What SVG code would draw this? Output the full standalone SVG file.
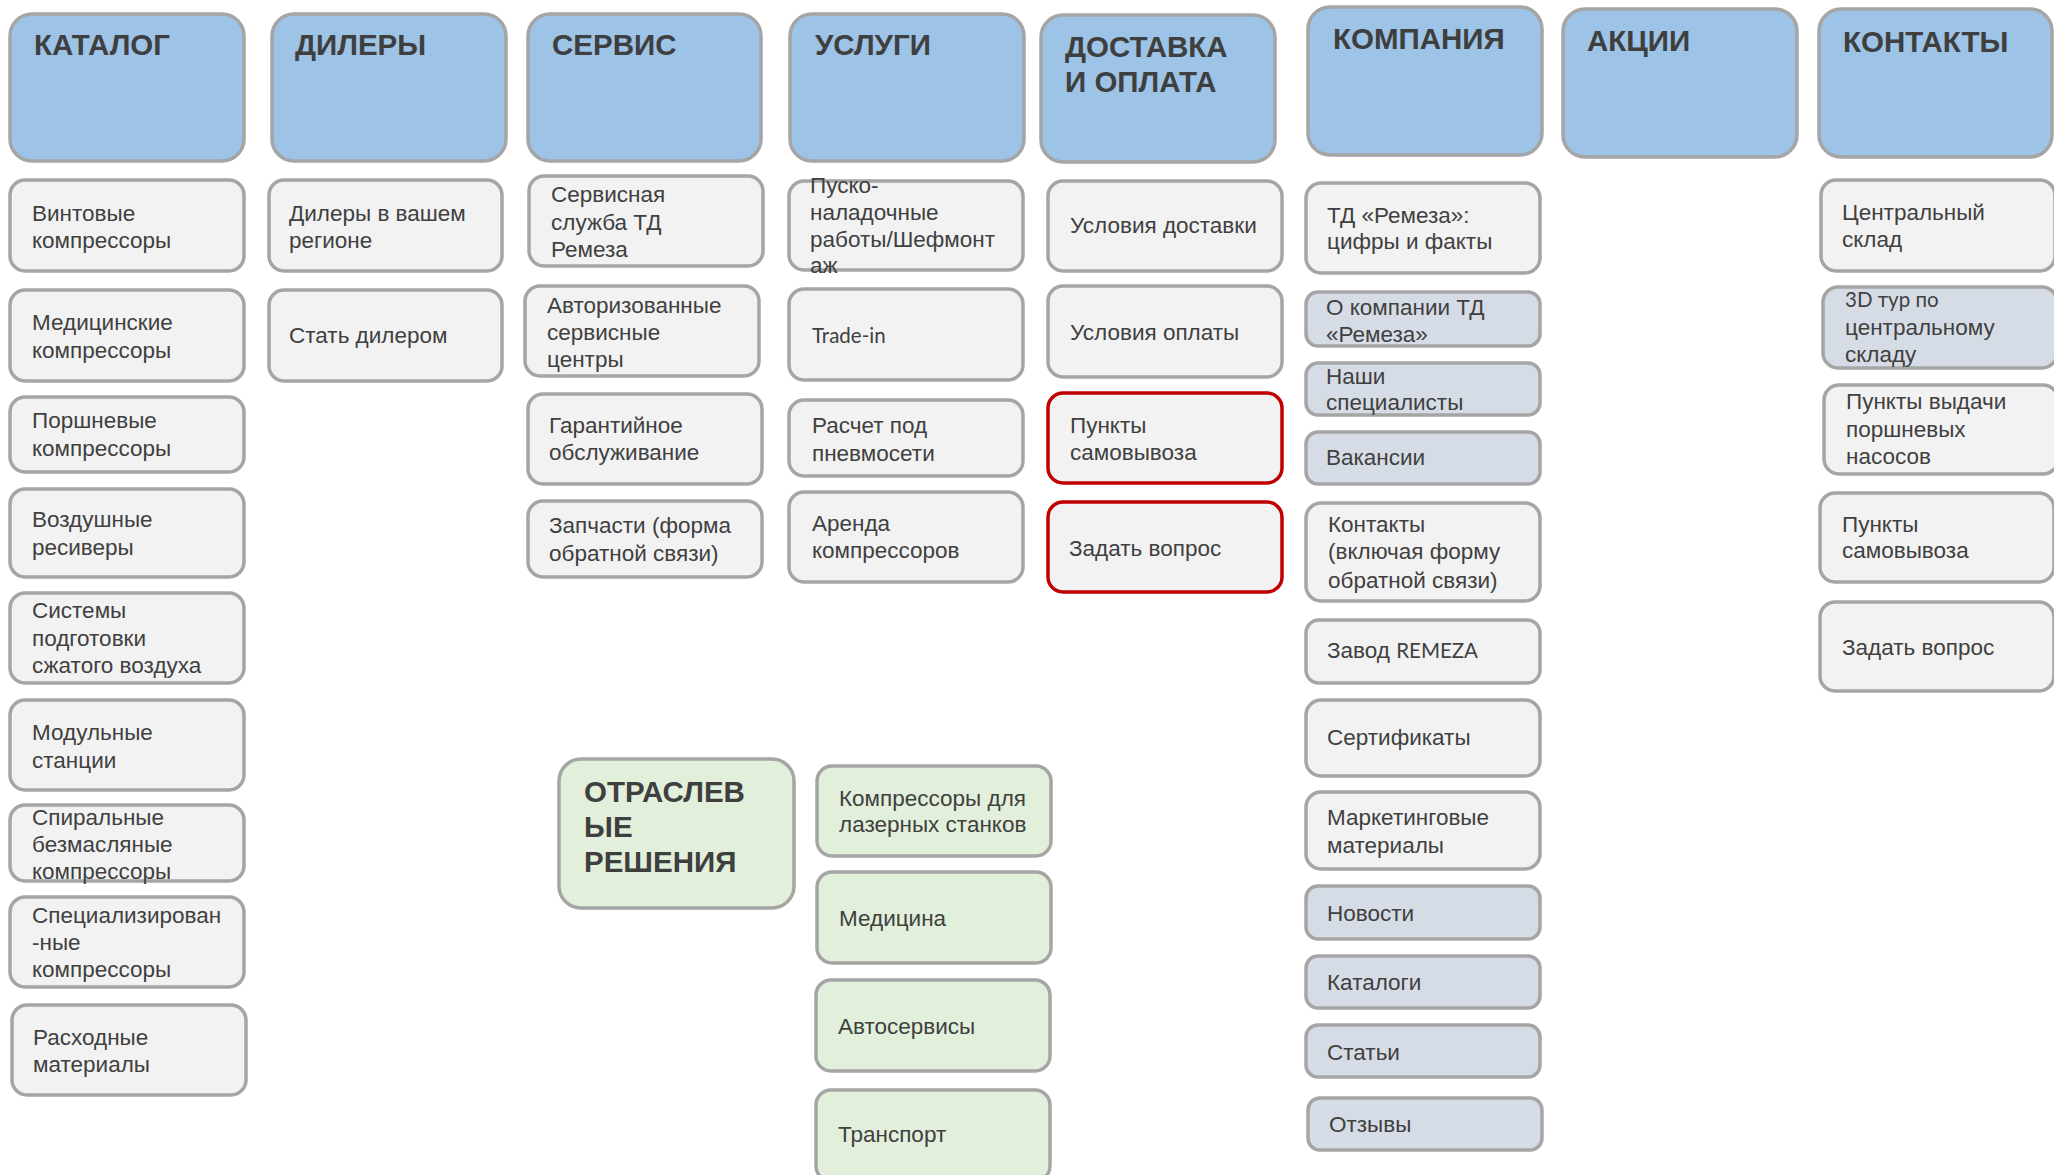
<svg xmlns="http://www.w3.org/2000/svg" width="2054" height="1175" viewBox="0 0 2054 1175">
<style>
rect{stroke:#A5A5A5;stroke-width:3.5}
.hdr{fill:#9DC3E6}
.itm{fill:#F2F2F2}
.blu{fill:#D6DCE5}
.grn{fill:#E2EFDA}
.red{fill:#F2F2F2;stroke:#C00000}
text{font-family:"Liberation Sans",Arial,sans-serif;font-size:22.5px;fill:#404040}
.h{font-weight:bold;font-size:29.5px;fill:#3F3F3F}
.c{font-family:Lato,"Liberation Sans",sans-serif;font-size:20.5px}
</style>
<rect x="0" y="0" width="2054" height="1175" fill="#FFFFFF" style="stroke:none"/>
<g id="connectors"></g>

<!-- Headers -->
<g id="h-katalog"><rect class="hdr" x="10" y="14" width="234" height="147" rx="22"/><text class="h" x="34" y="55">КАТАЛОГ</text></g>
<g id="h-dilery"><rect class="hdr" x="272" y="14" width="234" height="147" rx="22"/><text class="h" x="295" y="55">ДИЛЕРЫ</text></g>
<g id="h-servis"><rect class="hdr" x="528" y="14" width="233" height="147" rx="22"/><text class="h" x="552" y="55">СЕРВИС</text></g>
<g id="h-uslugi"><rect class="hdr" x="790" y="14" width="234" height="147" rx="22"/><text class="h" x="815" y="55">УСЛУГИ</text></g>
<g id="h-dostavka"><rect class="hdr" x="1041" y="15" width="234" height="147" rx="22"/><text class="h" x="1065" y="57">ДОСТАВКА</text><text class="h" x="1065" y="92">И ОПЛАТА</text></g>
<g id="h-kompania"><rect class="hdr" x="1308" y="7" width="234" height="148" rx="22"/><text class="h" x="1333" y="49">КОМПАНИЯ</text></g>
<g id="h-akcii"><rect class="hdr" x="1563" y="9" width="234" height="148" rx="22"/><text class="h" x="1587" y="51">АКЦИИ</text></g>
<g id="h-kontakty"><rect class="hdr" x="1819" y="9" width="233" height="148" rx="22"/><text class="h" x="1843" y="52">КОНТАКТЫ</text></g>

<!-- КАТАЛОГ -->
<g id="k1"><rect class="itm" x="10" y="180" width="234" height="91" rx="15"/><text x="32" y="221">Винтовые</text><text x="32" y="248">компрессоры</text></g>
<g id="k2"><rect class="itm" x="10" y="290" width="234" height="91" rx="15"/><text x="32" y="330">Медицинские</text><text x="32" y="358">компрессоры</text></g>
<g id="k3"><rect class="itm" x="10" y="397" width="234" height="75" rx="15"/><text x="32" y="428">Поршневые</text><text x="32" y="456">компрессоры</text></g>
<g id="k4"><rect class="itm" x="10" y="489" width="234" height="88" rx="15"/><text x="32" y="527">Воздушные</text><text x="32" y="555">ресиверы</text></g>
<g id="k5"><rect class="itm" x="10" y="593" width="234" height="90" rx="15"/><text x="32" y="618">Системы</text><text x="32" y="646">подготовки</text><text x="32" y="673">сжатого воздуха</text></g>
<g id="k6"><rect class="itm" x="10" y="700" width="234" height="90" rx="15"/><text x="32" y="740">Модульные</text><text x="32" y="768">станции</text></g>
<g id="k7"><rect class="itm" x="10" y="805" width="234" height="76" rx="15"/><text x="32" y="825">Спиральные</text><text x="32" y="852">безмасляные</text><text x="32" y="879">компрессоры</text></g>
<g id="k8"><rect class="itm" x="10" y="897" width="234" height="90" rx="15"/><text x="32" y="923">Специализирован</text><text x="32" y="950">-ные</text><text x="32" y="977">компрессоры</text></g>
<g id="k9"><rect class="itm" x="12" y="1005" width="234" height="90" rx="15"/><text x="33" y="1045">Расходные</text><text x="33" y="1072">материалы</text></g>

<!-- ДИЛЕРЫ -->
<g id="d1"><rect class="itm" x="269" y="180" width="233" height="91" rx="15"/><text x="289" y="221">Дилеры в вашем</text><text x="289" y="248">регионе</text></g>
<g id="d2"><rect class="itm" x="269" y="290" width="233" height="91" rx="15"/><text x="289" y="343">Стать дилером</text></g>

<!-- СЕРВИС -->
<g id="s1"><rect class="itm" x="529" y="176" width="234" height="90" rx="15"/><text x="551" y="202">Сервисная</text><text x="551" y="230">служба ТД</text><text x="551" y="257">Ремеза</text></g>
<g id="s2"><rect class="itm" x="525" y="286" width="234" height="90" rx="15"/><text x="547" y="313">Авторизованные</text><text x="547" y="340">сервисные</text><text x="547" y="367">центры</text></g>
<g id="s3"><rect class="itm" x="528" y="394" width="234" height="90" rx="15"/><text x="549" y="433">Гарантийное</text><text x="549" y="460">обслуживание</text></g>
<g id="s4"><rect class="itm" x="528" y="501" width="234" height="76" rx="15"/><text x="549" y="533">Запчасти (форма</text><text x="549" y="561">обратной связи)</text></g>

<!-- УСЛУГИ -->
<g id="u1"><rect class="itm" x="789" y="181" width="234" height="89" rx="15"/><text x="810" y="193">Пуско-</text><text x="810" y="220">наладочные</text><text x="810" y="247">работы/Шефмонт</text><text x="810" y="273">аж</text></g>
<g id="u2"><rect class="itm" x="789" y="289" width="234" height="91" rx="15"/><text class="c" x="812" y="343">Trade-in</text></g>
<g id="u3"><rect class="itm" x="789" y="400" width="234" height="76" rx="15"/><text x="812" y="433">Расчет под</text><text x="812" y="461">пневмосети</text></g>
<g id="u4"><rect class="itm" x="789" y="492" width="234" height="90" rx="15"/><text x="812" y="531">Аренда</text><text x="812" y="558">компрессоров</text></g>

<!-- ДОСТАВКА -->
<g id="p1"><rect class="itm" x="1048" y="181" width="234" height="90" rx="15"/><text x="1070" y="233">Условия доставки</text></g>
<g id="p2"><rect class="itm" x="1048" y="286" width="234" height="91" rx="15"/><text x="1070" y="340">Условия оплаты</text></g>
<g id="p3"><rect class="red" x="1048" y="393" width="234" height="90" rx="15"/><text x="1070" y="433">Пункты</text><text x="1070" y="460">самовывоза</text></g>
<g id="p4"><rect class="red" x="1048" y="502" width="234" height="90" rx="15"/><text x="1069" y="556">Задать вопрос</text></g>

<!-- КОМПАНИЯ -->
<g id="c1"><rect class="itm" x="1306" y="183" width="234" height="90" rx="15"/><text x="1327" y="223">ТД «Ремеза»:</text><text x="1327" y="249">цифры и факты</text></g>
<g id="c2"><rect class="blu" x="1306" y="292" width="234" height="54" rx="12"/><text x="1326" y="315">О компании ТД</text><text x="1326" y="342">«Ремеза»</text></g>
<g id="c3"><rect class="blu" x="1306" y="363" width="234" height="52" rx="12"/><text x="1326" y="384">Наши</text><text x="1326" y="410">специалисты</text></g>
<g id="c4"><rect class="blu" x="1306" y="432" width="234" height="52" rx="12"/><text x="1326" y="465">Вакансии</text></g>
<g id="c5"><rect class="itm" x="1306" y="503" width="234" height="98" rx="15"/><text x="1328" y="532">Контакты</text><text x="1328" y="559">(включая форму</text><text x="1328" y="588">обратной связи)</text></g>
<g id="c6"><rect class="itm" x="1306" y="620" width="234" height="63" rx="13"/><text x="1327" y="658">Завод <tspan class="c">REMEZA</tspan></text></g>
<g id="c7"><rect class="itm" x="1306" y="700" width="234" height="76" rx="15"/><text x="1327" y="745">Сертификаты</text></g>
<g id="c8"><rect class="itm" x="1306" y="792" width="234" height="77" rx="15"/><text x="1327" y="825">Маркетинговые</text><text x="1327" y="853">материалы</text></g>
<g id="c9"><rect class="blu" x="1306" y="886" width="234" height="53" rx="12"/><text x="1327" y="921">Новости</text></g>
<g id="c10"><rect class="blu" x="1306" y="956" width="234" height="52" rx="12"/><text x="1327" y="990">Каталоги</text></g>
<g id="c11"><rect class="blu" x="1306" y="1025" width="234" height="52" rx="12"/><text x="1327" y="1060">Статьи</text></g>
<g id="c12"><rect class="blu" x="1308" y="1098" width="234" height="52" rx="12"/><text x="1329" y="1132">Отзывы</text></g>

<!-- КОНТАКТЫ -->
<g id="t1"><rect class="itm" x="1821" y="180" width="234" height="91" rx="15"/><text x="1842" y="220">Центральный</text><text x="1842" y="247">склад</text></g>
<g id="t2"><rect class="blu" x="1823" y="287" width="234" height="81" rx="15"/><text class="c" x="1845" y="307">3D тур по</text><text x="1845" y="335">центральному</text><text x="1845" y="362">складу</text></g>
<g id="t3"><rect class="itm" x="1824" y="385" width="234" height="89" rx="15"/><text x="1846" y="409">Пункты выдачи</text><text x="1846" y="437">поршневых</text><text x="1846" y="464">насосов</text></g>
<g id="t4"><rect class="itm" x="1820" y="493" width="234" height="89" rx="15"/><text x="1842" y="532">Пункты</text><text x="1842" y="558">самовывоза</text></g>
<g id="t5"><rect class="itm" x="1820" y="602" width="234" height="89" rx="15"/><text x="1842" y="655">Задать вопрос</text></g>

<!-- ОТРАСЛЕВЫЕ РЕШЕНИЯ -->
<g id="h-otrasl"><rect class="grn" x="559" y="759" width="235" height="149" rx="22"/><text class="h" x="584" y="802">ОТРАСЛЕВ</text><text class="h" x="584" y="837">ЫЕ</text><text class="h" x="584" y="872">РЕШЕНИЯ</text></g>
<g id="g1"><rect class="grn" x="817" y="766" width="234" height="90" rx="15"/><text x="839" y="806">Компрессоры для</text><text x="839" y="832">лазерных станков</text></g>
<g id="g2"><rect class="grn" x="817" y="872" width="234" height="91" rx="15"/><text x="839" y="926">Медицина</text></g>
<g id="g3"><rect class="grn" x="816" y="980" width="234" height="91" rx="15"/><text x="838" y="1034">Автосервисы</text></g>
<g id="g4"><rect class="grn" x="816" y="1090" width="234" height="91" rx="15"/><text x="838" y="1142">Транспорт</text></g>
</svg>
